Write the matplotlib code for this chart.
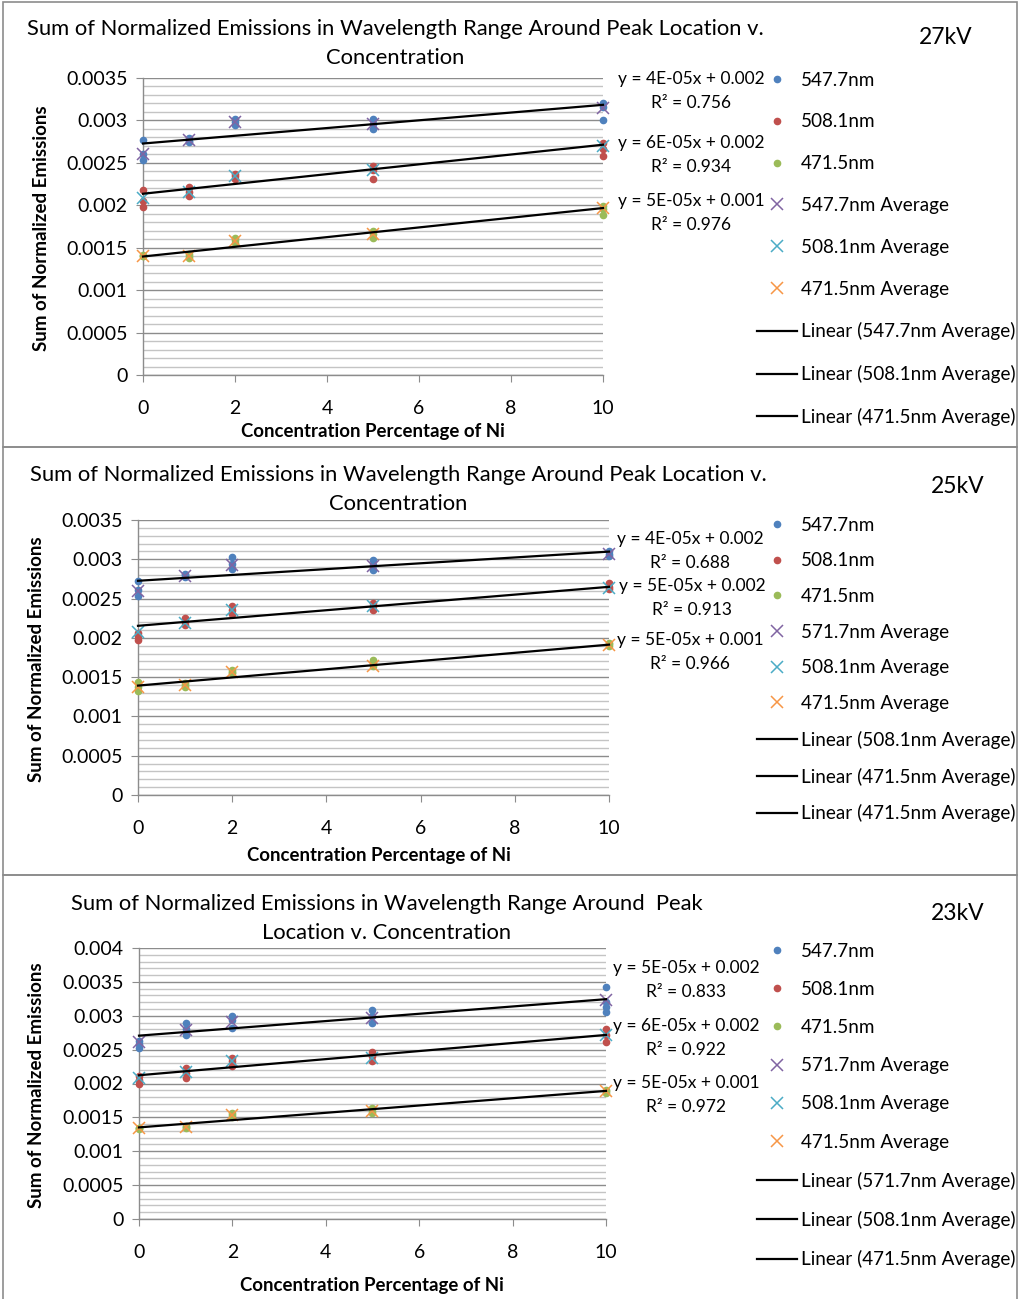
import numpy as np
import matplotlib
matplotlib.use('Agg')
import matplotlib.pyplot as plt
from matplotlib.patches import Rectangle
from matplotlib.ticker import MultipleLocator, FuncFormatter

plt.rcParams['font.family'] = ['Lato', 'DejaVu Sans']

# ---- data ----
conc = [0, 1, 2, 5, 10]
trial_x = [0, 0, 0, 1, 1, 1, 2, 2, 2, 5, 5, 5, 10, 10, 10]

# 27kV
kv27_547 = [0.00277, 0.00261, 0.00253, 0.00279, 0.00276, 0.00275, 0.00302, 0.00298, 0.00295,
            0.00302, 0.00296, 0.00290, 0.00320, 0.00316, 0.00301]
kv27_508 = [0.00218, 0.00205, 0.00198, 0.00222, 0.00216, 0.00211, 0.00237, 0.00234, 0.00231,
            0.00246, 0.00242, 0.00231, 0.00273, 0.00266, 0.00258]
kv27_471 = [0.00142, 0.00140, 0.00140, 0.00143, 0.00140, 0.00138, 0.00162, 0.00159, 0.00156,
            0.00170, 0.00166, 0.00162, 0.00199, 0.00196, 0.00189]
kv27_547_avg = [0.00260, 0.00277, 0.00298, 0.00296, 0.00315]
kv27_508_avg = [0.00209, 0.00216, 0.00235, 0.00242, 0.00270]
kv27_471_avg = [0.00140, 0.00140, 0.00158, 0.00166, 0.00197]

# 25kV
kv25_547 = [0.00272, 0.00261, 0.00253, 0.00281, 0.00280, 0.00278, 0.00303, 0.00294, 0.00288,
            0.00299, 0.00293, 0.00286, 0.00310, 0.00307, 0.00304]
kv25_508 = [0.00206, 0.00203, 0.00197, 0.00225, 0.00220, 0.00217, 0.00240, 0.00236, 0.00231,
            0.00244, 0.00240, 0.00236, 0.00270, 0.00265, 0.00262]
kv25_471 = [0.00144, 0.00138, 0.00132, 0.00142, 0.00140, 0.00138, 0.00159, 0.00157, 0.00155,
            0.00172, 0.00168, 0.00164, 0.00193, 0.00192, 0.00190]
kv25_547_avg = [0.00260, 0.00279, 0.00293, 0.00291, 0.00307]
kv25_508_avg = [0.00208, 0.00219, 0.00236, 0.00240, 0.00263]
kv25_471_avg = [0.00138, 0.00140, 0.00157, 0.00164, 0.00191]

# 23kV
kv23_547_x = [0, 0, 0, 1, 1, 1, 2, 2, 2, 5, 5, 5, 10, 10, 10, 10]
kv23_547 = [0.00263, 0.00258, 0.00253, 0.00289, 0.00281, 0.00271, 0.00300, 0.00293, 0.00282,
            0.00308, 0.00300, 0.00290, 0.00343, 0.00320, 0.00313, 0.00305]
kv23_508 = [0.00211, 0.00205, 0.00199, 0.00223, 0.00216, 0.00208, 0.00238, 0.00233, 0.00226,
            0.00246, 0.00240, 0.00233, 0.00281, 0.00272, 0.00261]
kv23_471 = [0.00135, 0.00134, 0.00133, 0.00137, 0.00136, 0.00135, 0.00156, 0.00154, 0.00151,
            0.00164, 0.00160, 0.00156, 0.00191, 0.00189, 0.00186]
kv23_547_avg = [0.00261, 0.00279, 0.00291, 0.00296, 0.00323]
kv23_508_avg = [0.00208, 0.00217, 0.00233, 0.00238, 0.00272]
kv23_471_avg = [0.00134, 0.00136, 0.00154, 0.00160, 0.00189]

dot_labels = ['547.7nm', '508.1nm', '471.5nm']
avg_labels_27 = ['547.7nm Average', '508.1nm Average', '471.5nm Average']
avg_labels_other = ['571.7nm Average', '508.1nm Average', '471.5nm Average']
lin_labels_27 = ['Linear (547.7nm Average)', 'Linear (508.1nm Average)', 'Linear (471.5nm Average)']
lin_labels_25 = ['Linear (508.1nm Average)', 'Linear (471.5nm Average)', 'Linear (471.5nm Average)']
lin_labels_23 = ['Linear (571.7nm Average)', 'Linear (508.1nm Average)', 'Linear (471.5nm Average)']
eq_27 = [('y = 4E-05x + 0.002', 'R² = 0.756'), ('y = 6E-05x + 0.002', 'R² = 0.934'),
         ('y = 5E-05x + 0.001', 'R² = 0.976')]
eq_25 = [('y = 4E-05x + 0.002', 'R² = 0.688'), ('y = 5E-05x + 0.002', 'R² = 0.913'),
         ('y = 5E-05x + 0.001', 'R² = 0.966')]
eq_23 = [('y = 5E-05x + 0.002', 'R² = 0.833'), ('y = 6E-05x + 0.002', 'R² = 0.922'),
         ('y = 5E-05x + 0.001', 'R² = 0.972')]

title_long = ['Sum of Normalized Emissions in Wavelength Range Around Peak Location v.',
              'Concentration']
title_short = ['Sum of Normalized Emissions in Wavelength Range Around  Peak',
               'Location v. Concentration']

# ---- layout helpers (pixel coords) ----
W, H = 1020, 1299
fig = plt.figure(figsize=(W / 100, H / 100), dpi=100)


def fx(px):
    return px / W


def fy(py):
    return 1 - py / H


dot_colors = ['#4F81BD', '#C0504D', '#9BBB59']
avg_colors = ['#8064A2', '#4BACC6', '#F79646']
GRID_MAJOR = '#8c8c8c'
GRID_MINOR = '#c4c4c4'

panels = [
    dict(box=(3, 2, 1017, 447), ax=(143, 78, 603, 375), ymax=0.0035,
         xs=[trial_x, trial_x, trial_x], ys=[kv27_547, kv27_508, kv27_471],
         avgs=[kv27_547_avg, kv27_508_avg, kv27_471_avg],
         avg_labels=avg_labels_27, lin_labels=lin_labels_27, eqs=eq_27,
         eq_pos=[(691, 79), (691, 143), (691, 201)],
         title=title_long, title_pos=(395, 29, 58), kv='27kV', kv_pos=(946, 38),
         ylab_pos=(42, 228), xlab_pos=(373, 432), leg=(757, 80), leg_step=41.6),
    dict(box=(3, 447, 1017, 875), ax=(138, 520, 609, 795), ymax=0.0035,
         xs=[trial_x, trial_x, trial_x], ys=[kv25_547, kv25_508, kv25_471],
         avgs=[kv25_547_avg, kv25_508_avg, kv25_471_avg],
         avg_labels=avg_labels_other, lin_labels=lin_labels_25, eqs=eq_25,
         eq_pos=[(690, 539), (692, 586), (690, 640)],
         title=title_long, title_pos=(398, 475, 504), kv='25kV', kv_pos=(958, 486),
         ylab_pos=(37, 659), xlab_pos=(379, 856), leg=(757, 525), leg_step=35.5),
    dict(box=(3, 875, 1017, 1305), ax=(139, 948, 606, 1219), ymax=0.004,
         xs=[kv23_547_x, trial_x, trial_x], ys=[kv23_547, kv23_508, kv23_471],
         avgs=[kv23_547_avg, kv23_508_avg, kv23_471_avg],
         avg_labels=avg_labels_other, lin_labels=lin_labels_23, eqs=eq_23,
         eq_pos=[(686, 968), (686, 1026), (686, 1083)],
         title=title_short, title_pos=(387, 904, 933), kv='23kV', kv_pos=(958, 913),
         ylab_pos=(37, 1085), xlab_pos=(372, 1286), leg=(757, 951), leg_step=38),
]

FS = 14
LEG_FS = 13.6
for p in panels:
    bl, bt, br, bb = p['box']
    fig.patches.append(Rectangle((fx(bl), fy(bb)), fx(br) - fx(bl), fy(bt) - fy(bb),
                                 transform=fig.transFigure, fill=False,
                                 edgecolor='#8c8c8c', lw=1.2, zorder=0))

    l, t, r, b = p['ax']
    ax = fig.add_axes([fx(l), fy(b), fx(r) - fx(l), fy(t) - fy(b)])
    ax.set_xlim(0, 10)
    ax.set_ylim(0, p['ymax'])
    ax.set_facecolor('none')

    ax.xaxis.set_major_locator(MultipleLocator(2))
    ax.yaxis.set_major_locator(MultipleLocator(0.0005))
    ax.yaxis.set_minor_locator(MultipleLocator(0.0001))
    ax.yaxis.set_major_formatter(FuncFormatter(lambda v, pos: '%g' % round(v, 6)))
    ax.grid(which='major', axis='y', color=GRID_MAJOR, lw=1.0)
    ax.grid(which='minor', axis='y', color=GRID_MINOR, lw=1.0)
    ax.set_axisbelow(True)
    for s in ['top', 'right']:
        ax.spines[s].set_visible(False)
    for s in ['left', 'bottom']:
        ax.spines[s].set_color(GRID_MAJOR)
        ax.spines[s].set_linewidth(1.0)
    ax.tick_params(axis='y', which='major', direction='out', length=5, color=GRID_MAJOR,
                   labelsize=FS, pad=6)
    ax.tick_params(axis='y', which='minor', length=0)
    ax.tick_params(axis='x', direction='out', length=5, color=GRID_MAJOR,
                   labelsize=FS, pad=13)

    dot_handles, avg_handles, lin_handles = [], [], []
    for i in range(3):
        h, = ax.plot(p['xs'][i], p['ys'][i], 'o', color=dot_colors[i], ms=4.5,
                     mec=dot_colors[i], clip_on=False, zorder=3, label=dot_labels[i])
        dot_handles.append(h)
    for i in range(3):
        h, = ax.plot(conc, p['avgs'][i], 'x', color=avg_colors[i], ms=9, mew=1.1,
                     clip_on=False, zorder=4, label=p['avg_labels'][i])
        avg_handles.append(h)
    for i in range(3):
        slope, icpt = np.polyfit(conc, p['avgs'][i], 1)
        xx = np.array([0, 10])
        h, = ax.plot(xx, slope * xx + icpt, '-', color='black', lw=1.6,
                     clip_on=False, zorder=5, label=p['lin_labels'][i])
        lin_handles.append(h)

    handles = dot_handles + avg_handles + lin_handles
    lx, ly = p['leg']
    fsz_px = LEG_FS * 100 / 72
    text_h = fsz_px * 0.89
    ax.legend(handles=handles, loc='upper left',
              bbox_to_anchor=(fx(lx), fy(ly - text_h / 2)), bbox_transform=fig.transFigure,
              frameon=False, fontsize=LEG_FS, handlelength=40 / fsz_px,
              handletextpad=4 / fsz_px,
              labelspacing=(p['leg_step'] - text_h) / fsz_px, borderpad=0, borderaxespad=0)

    for (line1, line2), (ex, ey) in zip(p['eqs'], p['eq_pos']):
        fig.text(fx(ex), fy(ey), line1, ha='center', va='center', fontsize=12.5)
        fig.text(fx(ex), fy(ey + 24), line2, ha='center', va='center', fontsize=12.5)

    tx, ty1, ty2 = p['title_pos']
    fig.text(fx(tx), fy(ty1), p['title'][0], ha='center', va='center', fontsize=15.8)
    fig.text(fx(tx), fy(ty2), p['title'][1], ha='center', va='center', fontsize=15.8)
    kx, ky = p['kv_pos']
    fig.text(fx(kx), fy(ky), p['kv'], ha='center', va='center', fontsize=16.5)
    yx, yy = p['ylab_pos']
    fig.text(fx(yx), fy(yy), 'Sum of Normalized Emissions', rotation=90, ha='center',
             va='center', fontsize=13.5, fontweight='bold')
    xx_, xy_ = p['xlab_pos']
    fig.text(fx(xx_), fy(xy_), 'Concentration Percentage of Ni', ha='center', va='center',
             fontsize=13.4, fontweight='bold')

fig.savefig('out.png', dpi=100, facecolor='white')
